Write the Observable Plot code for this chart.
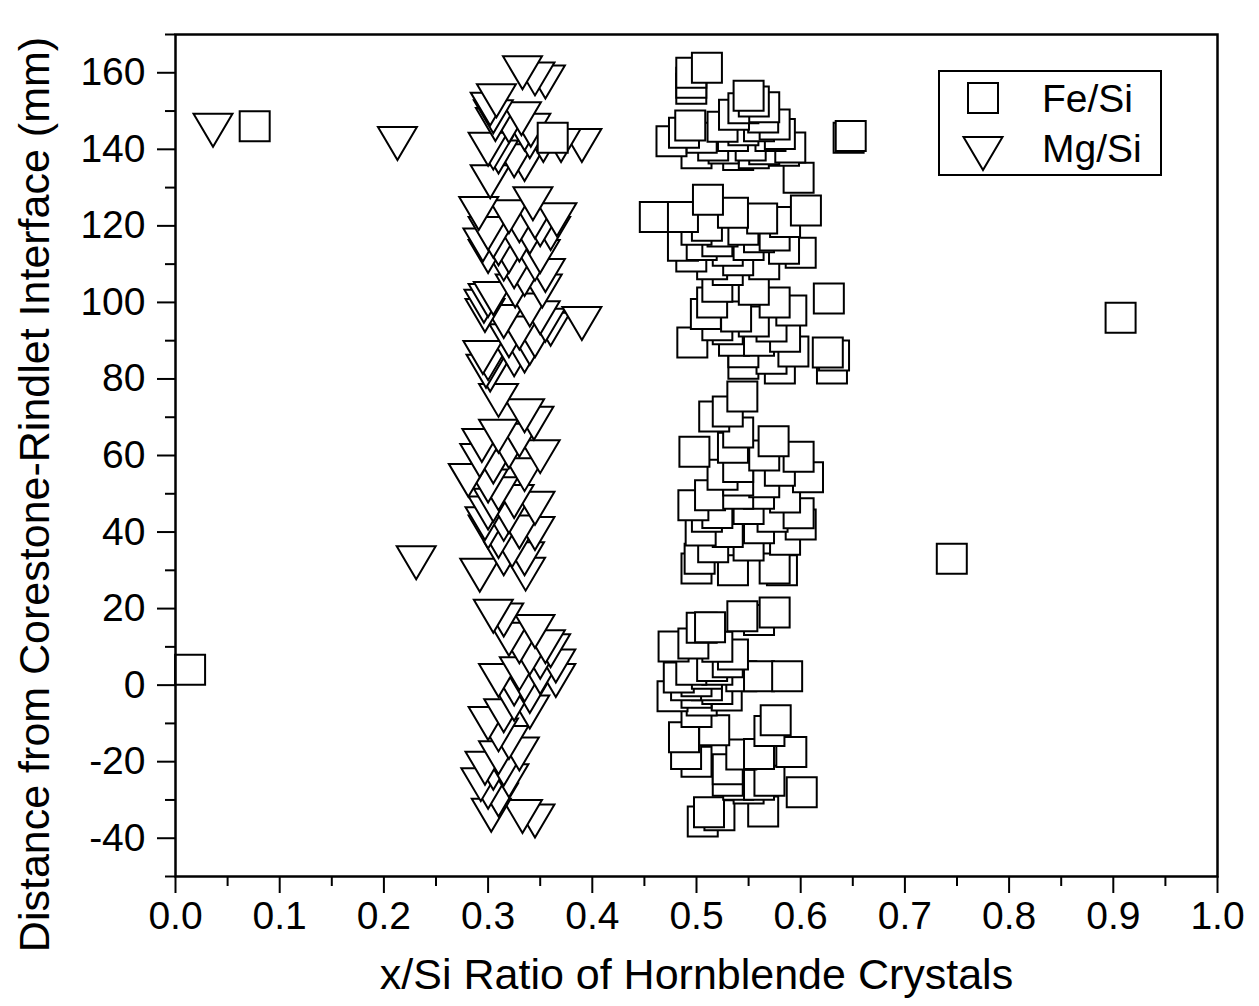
<!DOCTYPE html>
<html><head><meta charset="utf-8">
<script src="https://cdn.jsdelivr.net/npm/d3@7"></script>
<script src="https://cdn.jsdelivr.net/npm/@observablehq/plot@0.6"></script>
<style>
body{margin:0;background:#fff;}
#wrap{position:relative;width:1259px;height:1006px;font-family:Arial,"Liberation Sans",Helvetica,sans-serif;}
#legend{position:absolute;left:938px;top:70px;z-index:2;}
</style></head><body>
<div id="wrap">
<svg id="legend" width="224" height="106">
<rect x="1" y="1" width="222" height="104" fill="#fff" stroke="#000" stroke-width="2"/>
<rect x="30" y="13" width="30" height="30" fill="#fff" stroke="#000" stroke-width="2"/>
<path d="M25.5,67L64.5,67L45,100Z" fill="#fff" stroke="#000" stroke-width="2"/>
<text x="104" y="42" font-size="39" font-family="Arial, 'Liberation Sans', sans-serif">Fe/Si</text>
<text x="104" y="92" font-size="39" font-family="Arial, 'Liberation Sans', sans-serif">Mg/Si</text>
</svg>
</div>
<script>
// Fe/Si series
const feX = [
0.014,0.076,0.362,0.646,0.648,0.627,0.907,0.745,
0.51,0.495,0.495,0.495,0.55,0.555,0.565,0.545,0.536,0.564,0.571,0.494,0.488,0.476,0.525,0.516,0.526,0.552,0.565,0.584,0.59,0.598,0.505,0.535,0.545,0.56,0.575,0.58,0.5,0.54,0.555,
0.511,0.46,0.487,0.563,0.605,0.535,0.585,0.51,0.5,0.525,0.545,0.487,0.52,0.53,0.55,0.56,0.584,0.6,0.575,0.505,0.54,0.495,0.565,0.53,0.515,
0.52,0.555,0.575,0.591,0.515,0.509,0.538,0.572,0.496,0.536,0.545,0.572,0.593,0.626,0.632,0.63,0.58,0.545,0.53,0.555,0.52,0.56,0.585,
0.544,0.53,0.517,0.54,0.498,0.574,0.598,0.535,0.54,0.54,0.58,0.607,0.56,0.513,0.497,0.54,0.573,0.598,0.6,0.504,0.52,0.55,0.525,0.565,0.55,0.516,0.585,0.503,0.5,0.582,0.575,0.535,0.53,0.56,0.51,0.565,0.585,
0.575,0.544,0.56,0.513,0.505,0.478,0.497,0.535,0.52,0.483,0.543,0.56,0.587,0.5,0.51,0.52,0.5,0.49,0.477,0.529,0.5,0.576,0.57,0.488,0.517,0.49,0.5,0.543,0.56,0.591,0.53,0.53,0.54,0.55,0.56,0.57,0.601,0.564,0.512,0.506,0.522,0.515,0.53,0.495,0.505,0.51,0.52
];
const feY = [
4,146,143,143,143.5,101,96,33,
161.3,160,157.4,155.8,154,152.5,151,150.7,149,148.3,143.5,146.2,144.3,142.1,145.9,141,140.2,141,140,139.6,140.5,132.6,143,143.5,145,146,146.5,144,139,138.5,139,
126.8,122.3,122.3,121.9,124,123.4,121,120,119,118.5,119,114.8,116,113.5,115,117,114,113,117.5,115,111,112,110,108.5,110,
104.1,103.3,100,97.9,100,97,96.3,93.7,89.5,90,87,85.3,87.2,86.9,86.1,82.7,82.7,84,93,95,94,90,91,
75.4,71.5,70.2,66,61,63.7,59.7,62,57,53.5,56,54.3,50,49.6,47,50,44,44.9,42,40.4,45,46,55,53,36.5,36,38,33,30.5,30,30.5,30,40,41,44,60,49,
19,18,17,15.1,15,10.1,10.9,8,4,2,2.3,2.3,2.3,1,0,-1,-2,0,-2.9,-2.7,-7,-9.2,-12,-13.6,-11.8,-18,-20,-18.1,-18,-17.5,-22,-25,-26,-27,-26,-25,-28,-33,-33.2,-35.6,-34,5,6,4,-4,3,10
];
// Mg/Si series
const mgX = [
0.036,0.213,0.231,0.39,0.39,0.37,0.353,
0.333,0.345,0.355,0.308,0.302,0.305,0.307,0.332,0.341,0.34,0.335,0.32,0.3,0.305,0.31,0.325,0.335,0.302,0.291,0.343,0.366,0.32,0.33,0.345,0.35,0.36,
0.30,0.305,0.31,0.32,0.33,0.34,0.345,0.35,0.355,0.335,0.325,0.315,0.295,0.3,
0.326,0.352,0.296,0.30,0.305,0.297,0.34,0.35,0.355,0.36,0.33,0.345,0.34,0.335,0.325,0.295,0.30,0.298,0.302,0.315,0.32,
0.31,0.335,0.344,0.31,0.294,0.292,0.281,0.35,0.32,0.33,0.305,0.335,0.3,
0.345,0.345,0.297,0.30,0.31,0.323,0.325,0.31,0.292,0.336,0.315,0.33,0.32,0.305,0.315,0.335,0.3,
0.305,0.315,0.345,0.355,0.36,0.365,0.31,0.365,0.33,0.335,0.34,0.325,0.3,0.32,0.33,0.31,0.297,0.293,0.303,0.333,0.345,0.34,0.35,0.33,0.32,0.325,0.315,0.31,0.305,0.3,0.31,0.32,0.315,0.35,0.34
];
const mgY = [
145,141.5,32,94.5,141,141,141,
160,158.4,157.6,152.7,150.5,148.5,146.5,148,145,142,144,146,140,139,138,137,136,131.5,123.2,125.8,121.6,122.4,120,121,119,118,
118,116,114,112,115,117,110,112,107,106,108,110,115,112,
103,103,99,100.5,101,96.6,98,96,94,93,92,90,88,86,85,85.6,84,82,81,95,90,
74.4,70.4,68.4,65,62.6,58.7,53.5,59.7,61,64,57,55,52,
46.2,39.6,42.2,45,37.5,35.2,48,50,28.7,29,42,40,44,47,33,33,40,
18,17,14,10,9,5,1.2,1.2,3,0,-3,-5,-10,-15,-18,-19,-21.7,-26,-34,-34.3,-35.5,7,6,10,12,-1,-8,-13,-23,-28,-30,-25,-22,2,-7
];
const xTicks = d3.range(0, 1.0001, 0.1);
const xMinor = d3.range(0.05, 1, 0.1);
const yTicks = d3.range(-40, 161, 20);
const yMinor = d3.range(-50, 171, 20);

const fe = d3.sort(feX.map((x, i) => ({x, y: feY[i]})), d => d.y);
const mg = d3.sort(mgX.map((x, i) => ({x, y: mgY[i]})), d => d.y);

const squareSym = {draw(ctx, size) { const h = Math.sqrt(size / Math.PI); ctx.moveTo(-h, -h); ctx.lineTo(h, -h); ctx.lineTo(h, h); ctx.lineTo(-h, h); ctx.closePath(); }};
const triDownSym = {draw(ctx, size) { const h = Math.sqrt(size / Math.PI); const w = h * 1.18; ctx.moveTo(-w, -h); ctx.lineTo(w, -h); ctx.lineTo(0, h); ctx.closePath(); }};

const font = "Arial, 'Liberation Sans', Helvetica, sans-serif";
const chart = Plot.plot({
  width: 1259, height: 1006,
  marginLeft: 175, marginRight: 42, marginTop: 34, marginBottom: 130,
  style: {fontFamily: font, color: "#000", background: "#fff"},
  x: {domain: [0, 1]},
  y: {domain: [-50, 170]},
  marks: [
    Plot.dot(mg, {x: "x", y: "y", symbol: triDownSym, r: 16.5, fill: "#fff", stroke: "#000", strokeWidth: 2}),
    Plot.dot(fe, {x: "x", y: "y", symbol: squareSym, r: 15, fill: "#fff", stroke: "#000", strokeWidth: 2}),
    Plot.axisX({ticks: xTicks, tickSize: 17, tickPadding: 8, fontSize: 39, strokeWidth: 2, tickFormat: d3.format(".1f"), label: null}),
    Plot.axisX({ticks: xMinor, tickSize: 10, strokeWidth: 2, tickFormat: () => "", label: null}),
    Plot.axisY({ticks: yTicks, tickSize: 18, tickPadding: 12, fontSize: 39, strokeWidth: 2, tickFormat: d => String(d), label: null}),
    Plot.axisY({ticks: yMinor, tickSize: 10, strokeWidth: 2, tickFormat: () => "", label: null}),
    Plot.frame({stroke: "#000", strokeWidth: 2.5}),
    Plot.text(["x/Si Ratio of Hornblende Crystals"], {text: d => d, frameAnchor: "bottom", dy: 99, fontSize: 43, lineAnchor: "middle", textAnchor: "middle"}),
    Plot.text(["Distance from Corestone-Rindlet Interface (mm)"], {text: d => d, frameAnchor: "left", rotate: -90, dx: -140, dy: 39, fontSize: 43, lineAnchor: "middle", textAnchor: "middle"})
  ]
});
document.getElementById("wrap").prepend(chart);
</script>
</body></html>
